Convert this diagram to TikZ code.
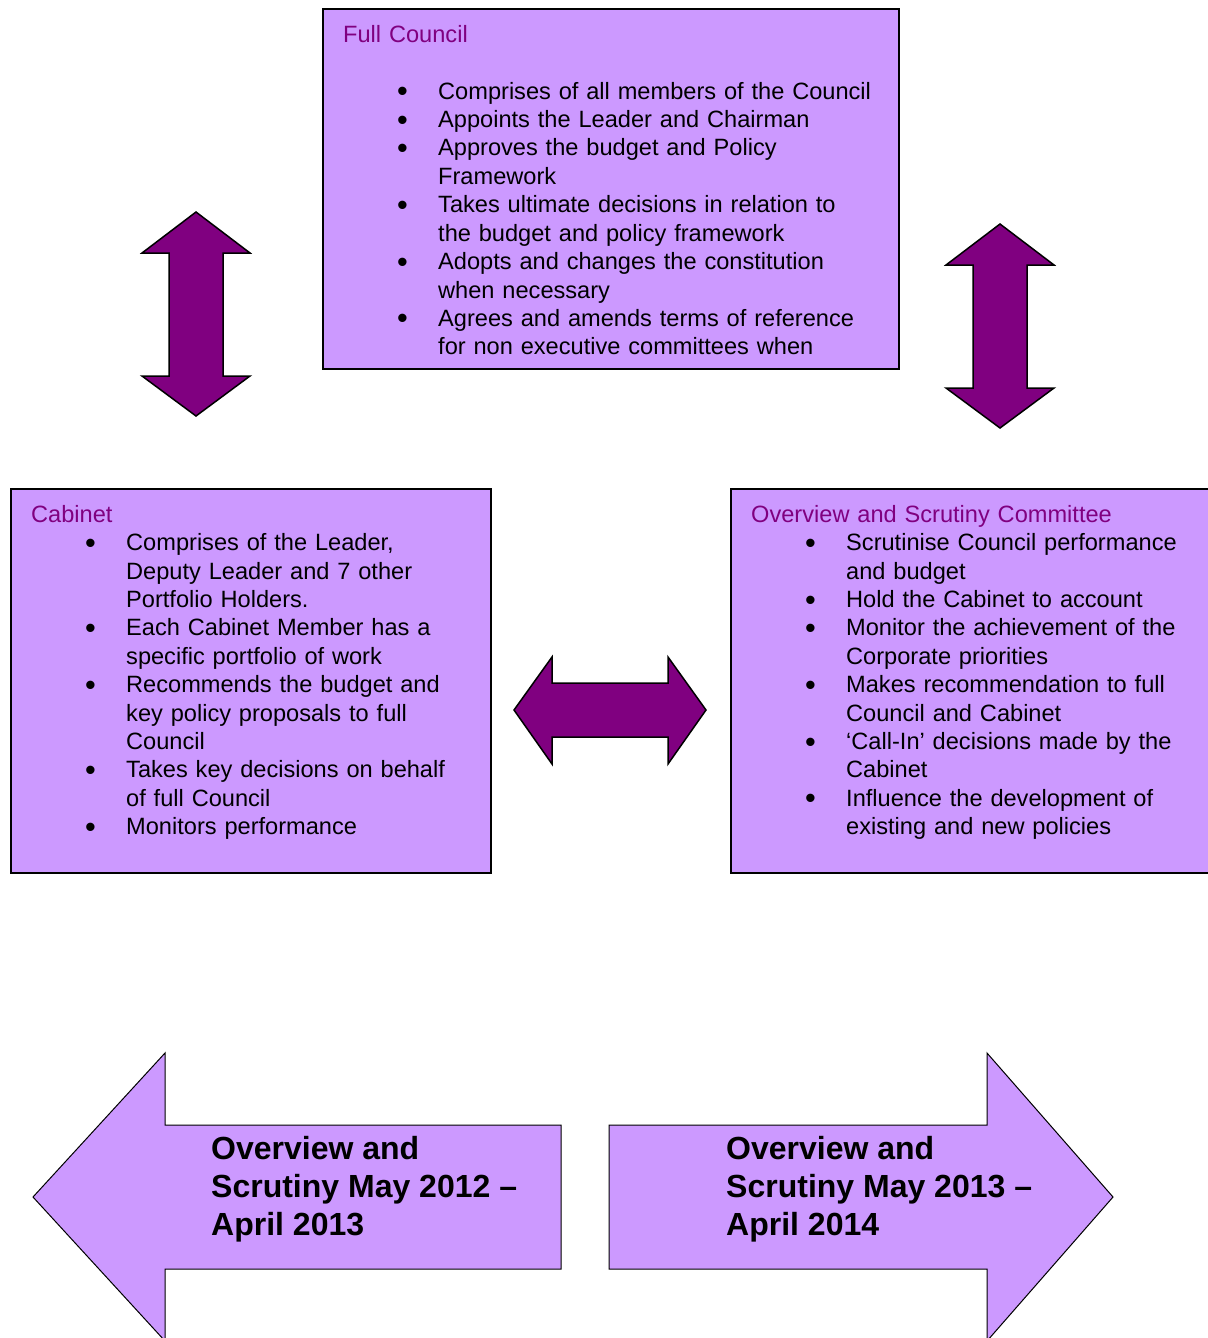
\documentclass[tikz,border=0pt]{standalone}
\usepackage{fontspec}
\usepackage{graphicx}
\setmainfont{Liberation Sans}
\usetikzlibrary{positioning}
\definecolor{lilac}{HTML}{CC99FF}
\definecolor{plum}{HTML}{800080}
\newcommand{\bitem}[1]{\par\hangindent=41pt\hangafter=1\noindent\makebox[41pt][l]{\raisebox{-2.5pt}{\scalebox{1.3}{\textbullet}}}#1}
\newcommand{\nl}{\hfil\break}
\newcommand{\listfrom}{\par\leftskip=54pt}
\tikzset{
  panel/.style={draw, line width=1.6pt, fill=lilac, anchor=north west, inner sep=0pt},
  listtext/.style={anchor=north west, inner sep=0pt, text width=#1,
    font=\fontsize{23.6}{28.4}\selectfont},
  blockarrow/.style={draw, line width=1.5pt, fill=plum, line join=miter},
  bigarrow/.style={draw, line width=1pt, fill=lilac},
  arrowtext/.style={anchor=north west, inner sep=0pt, align=left,
    font=\fontsize{32}{38}\selectfont\bfseries}
}
\begin{document}
\begin{tikzpicture}[x=1pt,y=-1pt]
  \useasboundingbox (0,0) rectangle (1207,1338);
  % boxes
  \node[panel, minimum width=576pt, minimum height=360pt] (council) at (322,8) {};
  \node[panel, minimum width=480pt, minimum height=384pt] (cabinet) at (10,488) {};
  \node[panel, minimum width=500pt, minimum height=384pt] (scrutiny) at (730,488) {};

  \node[listtext=560pt] (councillist) at (343,25) {\raggedright
    {\color{plum}Full Council}\par\vspace{28.5pt}
    \listfrom
    \bitem{Comprises of all members of the Council}
    \bitem{Appoints the Leader and Chairman}
    \bitem{Approves the budget and Policy\nl Framework}
    \bitem{Takes ultimate decisions in relation to\nl the budget and policy framework}
    \bitem{Adopts and changes the constitution\nl when necessary}
    \bitem{Agrees and amends terms of reference\nl for non executive committees when}\par};

  \node[listtext=460pt] (cabinetlist) at (31,505) {\raggedright
    {\color{plum}Cabinet}
    \listfrom
    \bitem{Comprises of the Leader,\nl Deputy Leader and 7 other\nl Portfolio Holders.}
    \bitem{Each Cabinet Member has a\nl specific portfolio of work}
    \bitem{Recommends the budget and\nl key policy proposals to full\nl Council}
    \bitem{Takes key decisions on behalf\nl of full Council}
    \bitem{Monitors performance}\par};

  \node[listtext=460pt] (scrutinylist) at (751,505) {\raggedright
    {\color{plum}Overview and Scrutiny Committee}
    \listfrom
    \bitem{Scrutinise Council performance\nl and budget}
    \bitem{Hold the Cabinet to account}
    \bitem{Monitor the achievement of the\nl Corporate priorities}
    \bitem{Makes recommendation to full\nl Council and Cabinet}
    \bitem{‘Call-In’ decisions made by the\nl Cabinet}
    \bitem{Influence the development of\nl existing and new policies}\par};

  % up/down arrows
  \foreach \cx/\ty in {196/212, 1000/224} {
    \draw[blockarrow] (\cx,\ty) -- (\cx+54,\ty+41) -- (\cx+27,\ty+41)
      -- (\cx+27,\ty+164) -- (\cx+54,\ty+164) -- (\cx,\ty+204)
      -- (\cx-54,\ty+164) -- (\cx-27,\ty+164) -- (\cx-27,\ty+41)
      -- (\cx-54,\ty+41) -- cycle;
  }
  % left/right arrow
  \draw[blockarrow] (514,710) -- (552,657) -- (552,683) -- (668,683) -- (668,657)
    -- (706,710) -- (668,764) -- (668,737) -- (552,737) -- (552,764) -- cycle;

  % year arrows
  \draw[bigarrow] (33,1197) -- (165,1053) -- (165,1125) -- (561,1125) -- (561,1269)
    -- (165,1269) -- (165,1341) -- cycle;
  \draw[bigarrow] (1113,1197) -- (987,1053) -- (987,1125) -- (609,1125) -- (609,1269)
    -- (987,1269) -- (987,1341) -- cycle;
  \node[arrowtext] (pastyear) at (211,1136) {Overview and\\Scrutiny May 2012 –\\April 2013};
  \node[arrowtext] (nextyear) at (726,1136) {Overview and\\Scrutiny May 2013 –\\April 2014};
\end{tikzpicture}
\end{document}
